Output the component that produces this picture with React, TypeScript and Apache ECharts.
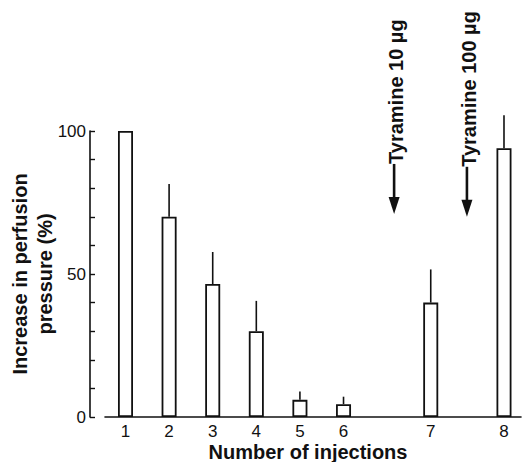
import React, { useEffect, useRef } from "react";
import * as echarts from "echarts";

const positions = [1, 2, 3, 4, 5, 6, 8, 9.68];
const injectionLabels = ["1", "2", "3", "4", "5", "6", "7", "8"];
const means = [100, 70, 46.5, 30, 6, 4.5, 40, 94];
const errorUp = [0, 11.5, 11.2, 10.6, 2.9, 2.6, 11.6, 11.5];
const yTicks = [0, 50, 100];

const arrowPositions = [7.16, 8.83];
const arrowTips = [71, 70];
const arrowLabels = ["Tyramine 10 \u00b5g", "Tyramine 100 \u00b5g"];

const INK = "#111";
const FONT = "'Liberation Sans', Arial, Helvetica, sans-serif";

export default function App() {
  const ref = useRef<HTMLDivElement>(null);
  useEffect(() => {
    if (!ref.current) return;
    const chart = echarts.init(ref.current, undefined, { renderer: "svg" });
    const option: any = {
      animation: false,
      backgroundColor: "#fff",
      textStyle: { fontFamily: FONT, color: INK },
      grid: {
        left: 105,
        right: 2,
        top: 131,
        bottom: 45,
        containLabel: false,
        outerBoundsMode: "none",
      },
      xAxis: {
        type: "value",
        min: 0.53,
        max: 10.07,
        axisLine: { show: true, onZero: false, lineStyle: { color: INK, width: 1.6 } },
        axisTick: { show: false },
        splitLine: { show: false },
        axisLabel: {
          customValues: positions,
          color: INK,
          fontSize: 17,
          fontFamily: FONT,
          margin: 6,
          formatter: (v: number) => {
            const i = positions.findIndex((p) => Math.abs(p - v) < 1e-6);
            return i >= 0 ? injectionLabels[i] : "";
          },
        },
      },
      yAxis: {
        type: "value",
        min: yTicks[0],
        max: yTicks[yTicks.length - 1],
        interval: 50,
        offset: 15,
        name: "Increase in perfusion\npressure (%)",
        nameLocation: "middle",
        nameGap: 33,
        nameMoveOverlap: false,
        nameTextStyle: {
          fontSize: 20,
          fontWeight: "bold",
          fontFamily: FONT,
          color: INK,
          lineHeight: 25,
        },
        axisLine: { show: true, lineStyle: { color: INK, width: 1.6 } },
        axisTick: { show: true, inside: true, length: 5, lineStyle: { color: INK, width: 1.4 } },
        minorTick: { show: true, splitNumber: 5, length: 5, lineStyle: { color: INK, width: 1.4 } },
        splitLine: { show: false },
        axisLabel: { color: INK, fontSize: 17, fontFamily: FONT, margin: 4 },
      },
      graphic: [
        {
          type: "text",
          x: 308,
          y: 452,
          style: {
            text: "Number of injections",
            fontSize: 20,
            fontWeight: "bold",
            fontFamily: FONT,
            fill: INK,
            align: "center",
            verticalAlign: "middle",
          },
        },
      ],
      series: [
        {
          type: "bar",
          data: positions.map((p, i) => [p, means[i]]),
          barWidth: 15,
          itemStyle: { color: "#fff", borderColor: INK, borderWidth: 1.8 },
          z: 3,
        },
        {
          type: "custom",
          clip: false,
          data: positions.map((p, i) => [p, means[i], means[i] + errorUp[i]]),
          renderItem: (params: any, api: any) => {
            const x = api.value(0);
            const lo = api.coord([x, api.value(1)]);
            const hi = api.coord([x, api.value(2)]);
            if (Math.abs(hi[1] - lo[1]) < 0.5) return { type: "group", children: [] };
            return {
              type: "line",
              shape: { x1: lo[0], y1: lo[1], x2: hi[0], y2: hi[1] },
              style: { stroke: INK, lineWidth: 1.6 },
            };
          },
          z: 4,
        },
        {
          type: "custom",
          clip: false,
          data: arrowPositions.map((p, i) => [p, arrowTips[i]]),
          renderItem: (params: any, api: any) => {
            const pt = api.coord([api.value(0), api.value(1)]);
            const x = pt[0];
            const tip = pt[1];
            const label = arrowLabels[params.dataIndex];
            return {
              type: "group",
              children: [
                {
                  type: "line",
                  shape: { x1: x, y1: tip - 50, x2: x, y2: tip - 14 },
                  style: { stroke: INK, lineWidth: 2.6 },
                },
                {
                  type: "polygon",
                  shape: { points: [[x, tip], [x - 5.5, tip - 17], [x + 5.5, tip - 17]] },
                  style: { fill: INK },
                },
                {
                  type: "text",
                  x: x + 2,
                  y: tip - 50,
                  rotation: Math.PI / 2,
                  style: {
                    text: label,
                    fontSize: 20,
                    fontWeight: "bold",
                    fontFamily: FONT,
                    fill: INK,
                    align: "left",
                    verticalAlign: "middle",
                  },
                },
              ],
            };
          },
          z: 5,
        },
      ],
    };
    chart.setOption(option);
    return () => chart.dispose();
  }, []);
  return (
    <div
      ref={ref}
      style={{ position: "fixed", left: 0, top: 0, width: 523, height: 462, background: "#fff" }}
    />
  );
}
